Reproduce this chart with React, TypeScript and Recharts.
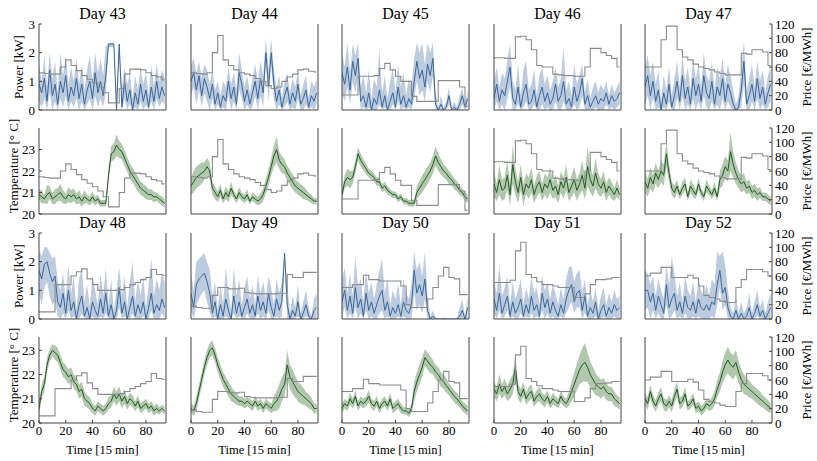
import React from "react";
import { ComposedChart, Area, Line, XAxis, YAxis } from "recharts";

const FONT = '"Liberation Serif", "DejaVu Serif", serif';

const timeTicks = [0, 20, 40, 60, 80];
const powerTicks = [0, 1, 2, 3];
const tempTicks = [20, 21, 22, 23];
const priceTicks = [0, 20, 40, 60, 80, 100, 120];

// hourly prices [€/MWh]
const price43 = [52, 51, 50, 50, 60, 70, 62, 55, 48, 43, 38, 32, 24, 10, 10, 30, 50, 57, 57, 56, 52, 48, 46, 42];
const price44 = [52, 51, 50, 52, 80, 104, 70, 62, 56, 52, 50, 48, 44, 40, 34, 30, 32, 40, 46, 50, 56, 57, 54, 53];
const price45 = [21, 21, 21, 47, 47, 47, 48, 58, 65, 56, 47, 40, 40, 19, 12, 12, 12, 12, 41, 41, 41, 41, 32, 5];
const price46 = [73, 73, 72, 72, 102, 103, 98, 84, 62, 60, 60, 50, 49, 48, 48, 47, 47, 60, 86, 86, 80, 76, 72, 60];
const price47 = [60, 60, 60, 98, 117, 117, 84, 74, 70, 64, 60, 58, 56, 53, 51, 49, 49, 49, 79, 78, 84, 84, 81, 62];
const price48 = [10, 10, 10, 48, 48, 48, 60, 66, 70, 56, 48, 40, 40, 40, 40, 41, 44, 48, 51, 55, 58, 69, 62, 61];
const price49 = [18, 16, 15, 15, 33, 44, 44, 42, 42, 43, 37, 36, 35, 35, 35, 35, 36, 36, 62, 58, 58, 65, 65, 65];
const price50 = [44, 44, 48, 48, 61, 55, 55, 53, 53, 53, 53, 46, 20, 16, 16, 16, 28, 44, 60, 72, 58, 56, 34, 34];
const price51 = [51, 51, 51, 54, 95, 107, 62, 58, 52, 48, 48, 46, 44, 44, 44, 30, 30, 35, 48, 55, 55, 56, 58, 58];
const price52 = [60, 64, 64, 72, 72, 58, 58, 58, 61, 57, 46, 33, 30, 28, 25, 23, 23, 44, 55, 69, 69, 69, 66, 60];

// power [kW], every 30 min: mean, upper and lower band
const p43Mean = [0.9, 0.6, 1.1, 0.3, 1.4, 0.5, 0.9, 0.2, 1.0, 0.6, 1.2, 0.3, 0.8, 0.5, 1.1, 0.4, 0.9, 0.2, 0.7, 1.0, 0.4, 1.3, 0.6, 1.0, 0.5, 1.2, 2.3, 2.3, 2.3, 0.0, 2.3, 0.1, 1.0, 0.3, 0.7, 0.0, 0.6, 0.2, 0.9, 0.3, 0.7, 0.1, 0.8, 0.3, 1.0, 0.4, 0.8, 0.5];
const p43Hi = [1.6, 1.0, 1.9, 0.8, 2.0, 1.1, 1.7, 0.6, 2.0, 1.2, 1.9, 0.9, 1.5, 1.0, 1.8, 0.9, 1.6, 0.7, 1.4, 1.9, 1.0, 2.0, 1.3, 1.8, 1.2, 2.2, 2.35, 2.35, 2.35, 0.6, 2.35, 0.8, 1.5, 0.9, 1.3, 0.4, 1.2, 0.7, 1.5, 0.9, 1.3, 0.5, 1.6, 0.8, 1.6, 1.0, 1.4, 1.1];
const p43Lo = [0.3, 0.1, 0.4, 0, 0.6, 0, 0.3, 0, 0.4, 0.1, 0.5, 0, 0.3, 0.1, 0.4, 0, 0.3, 0, 0.2, 0.4, 0, 0.5, 0.1, 0.4, 0.1, 0.6, 2.2, 2.2, 2.2, 0, 2.0, 0, 0.4, 0, 0.2, 0, 0.1, 0, 0.3, 0, 0.2, 0, 0.3, 0, 0.4, 0.1, 0.3, 0.2];

const p44Mean = [1.0, 1.3, 0.7, 1.2, 0.5, 1.1, 0.8, 0.4, 0.9, 0.2, 0.6, 0.1, 0.5, 0.3, 1.0, 0.4, 0.8, 0.2, 1.3, 0.9, 0.3, 0.7, 0.2, 0.6, 1.0, 0.4, 1.1, 0.6, 2.0, 0.8, 2.0, 0.9, 0.3, 0.7, 0.1, 0.5, 0.8, 0.2, 0.6, 0.3, 0.9, 0.2, 0.4, 0.7, 0.1, 0.5, 0.3, 0.6];
const p44Hi = [1.6, 1.8, 1.3, 1.7, 1.1, 1.6, 1.4, 0.9, 1.4, 0.7, 1.0, 0.5, 1.0, 0.8, 1.5, 0.9, 1.3, 0.7, 2.0, 1.4, 0.8, 1.2, 0.6, 1.1, 1.6, 1.0, 1.7, 1.2, 2.5, 1.4, 2.5, 1.4, 0.8, 1.2, 0.4, 1.0, 1.3, 0.6, 1.1, 0.8, 1.4, 0.5, 0.9, 1.2, 0.4, 1.0, 0.8, 1.1];
const p44Lo = [0.5, 0.8, 0.2, 0.7, 0.1, 0.6, 0.3, 0, 0.4, 0, 0.2, 0, 0.1, 0, 0.5, 0, 0.3, 0, 0.7, 0.4, 0, 0.2, 0, 0.1, 0.5, 0, 0.5, 0.1, 1.6, 0.3, 1.6, 0.4, 0, 0.2, 0, 0.1, 0.3, 0, 0.1, 0, 0.4, 0, 0, 0.2, 0, 0.1, 0, 0.2];

const p45Mean = [1.3, 0.9, 1.5, 0.7, 1.7, 1.2, 1.8, 0.3, 0.5, 0.1, 0.6, 0.0, 0.4, 0.2, 0.7, 0.1, 0.5, 0.0, 0.3, 0.6, 0.1, 0.8, 0.2, 0.5, 0.1, 0.4, 0.2, 1.0, 1.7, 1.1, 1.4, 0.8, 1.6, 1.2, 1.8, 0.2, 0.0, 0.2, 0.0, 0.1, 0.5, 0.0, 0.1, 0.0, 0.2, 0.5, 0.1, 0.4];
const p45Hi = [2.0, 1.5, 2.35, 1.3, 2.3, 1.9, 2.35, 0.8, 1.2, 0.6, 1.4, 0.4, 1.1, 0.8, 2.1, 0.6, 1.2, 0.4, 1.0, 1.5, 0.6, 1.6, 0.8, 1.3, 0.5, 1.1, 0.8, 1.8, 2.35, 2.0, 2.35, 1.6, 2.35, 2.0, 2.35, 0.6, 0.1, 0.5, 0.1, 0.3, 0.8, 0.1, 0.3, 0.1, 0.5, 0.8, 0.2, 0.7];
const p45Lo = [0.6, 0.3, 0.8, 0.2, 1.0, 0.6, 1.2, 0, 0.1, 0, 0.1, 0, 0, 0, 0.2, 0, 0.1, 0, 0, 0.2, 0, 0.3, 0, 0.1, 0, 0.1, 0, 0.4, 1.0, 0.5, 0.7, 0.3, 1.0, 0.6, 1.2, 0, 0, 0, 0, 0, 0.2, 0, 0, 0, 0, 0.2, 0, 0.1];

const p46Mean = [0.4, 0.9, 0.3, 0.7, 0.5, 1.0, 1.5, 0.4, 0.2, 0.8, 0.1, 0.6, 0.9, 0.2, 0.3, 0.7, 0.1, 0.5, 0.8, 0.3, 0.6, 0.2, 0.4, 0.9, 0.3, 0.5, 1.0, 0.2, 0.4, 0.1, 0.8, 0.3, 0.6, 1.1, 0.2, 0.5, 0.1, 0.3, 0.5, 0.2, 0.4, 0.3, 0.6, 0.2, 0.5, 0.3, 0.4, 0.6];
const p46Hi = [1.0, 1.5, 0.8, 1.3, 1.1, 1.7, 2.3, 1.0, 0.7, 1.6, 0.5, 1.4, 1.7, 0.7, 0.9, 1.4, 0.5, 1.2, 1.5, 0.9, 1.2, 0.7, 1.0, 1.5, 0.8, 1.1, 2.2, 0.7, 1.0, 0.5, 1.6, 0.9, 1.2, 1.6, 0.6, 1.1, 0.4, 0.8, 1.0, 0.6, 0.9, 0.7, 1.0, 0.5, 0.9, 0.6, 0.8, 1.0];
const p46Lo = [0, 0.3, 0, 0.2, 0, 0.4, 0.8, 0, 0, 0.2, 0, 0.1, 0.3, 0, 0, 0.2, 0, 0, 0.2, 0, 0.1, 0, 0, 0.3, 0, 0, 0.3, 0, 0, 0, 0.2, 0, 0.1, 0.5, 0, 0, 0, 0, 0.1, 0, 0, 0, 0.2, 0, 0.1, 0, 0.1, 0.2];

const p47Mean = [0.8, 1.2, 0.5, 1.0, 0.3, 0.7, 0.0, 0.6, 0.2, 0.9, 0.1, 0.5, 1.0, 0.3, 1.2, 0.4, 0.8, 0.2, 1.1, 0.5, 0.9, 0.3, 1.2, 0.6, 0.4, 1.0, 0.2, 0.8, 0.5, 1.1, 0.3, 0.9, 0.6, 0.2, 0.0, 0.1, 0.7, 1.7, 0.2, 0.5, 0.9, 0.3, 1.1, 0.4, 0.8, 0.2, 0.6, 0.9];
const p47Hi = [1.5, 1.9, 1.2, 1.7, 0.9, 1.4, 0.3, 1.2, 0.7, 1.5, 0.5, 1.1, 1.7, 0.8, 1.9, 1.0, 1.5, 0.7, 1.8, 1.1, 1.6, 0.8, 2.0, 1.2, 1.0, 1.7, 0.7, 1.5, 1.1, 1.8, 0.9, 1.6, 1.2, 0.7, 0.2, 0.5, 1.4, 2.4, 0.7, 1.1, 1.6, 0.8, 1.7, 1.0, 1.4, 0.6, 1.2, 1.5];
const p47Lo = [0.2, 0.5, 0, 0.4, 0, 0.1, 0, 0.1, 0, 0.3, 0, 0, 0.4, 0, 0.5, 0, 0.2, 0, 0.4, 0, 0.3, 0, 0.5, 0.1, 0, 0.3, 0, 0.2, 0, 0.4, 0, 0.3, 0.1, 0, 0, 0, 0.1, 0.9, 0, 0, 0.3, 0, 0.4, 0, 0.2, 0, 0.1, 0.3];

const p48Mean = [1.7, 1.4, 1.9, 2.0, 1.6, 1.3, 1.5, 0.6, 0.4, 0.9, 0.2, 1.0, 0.3, 0.6, 0.0, 0.5, 0.8, 0.1, 0.4, 0.0, 0.6, 0.3, 0.1, 0.7, 0.2, 0.9, 0.1, 0.5, 0.0, 0.3, 1.1, 0.2, 0.6, 0.0, 0.4, 0.8, 0.1, 0.5, 0.2, 0.6, 0.0, 0.4, 0.9, 0.2, 0.5, 0.3, 0.7, 0.4];
const p48Hi = [2.4, 2.2, 2.5, 2.5, 2.3, 2.1, 2.2, 1.3, 1.0, 1.6, 0.7, 1.9, 0.9, 1.5, 0.3, 1.4, 1.8, 0.6, 1.2, 0.4, 1.5, 1.0, 0.5, 1.6, 0.8, 1.8, 0.5, 1.4, 0.3, 1.0, 1.8, 0.8, 1.5, 0.4, 1.3, 2.0, 0.6, 1.4, 0.8, 1.5, 0.4, 1.2, 2.1, 0.8, 1.4, 1.0, 1.6, 1.3];
const p48Lo = [0.9, 0.5, 1.1, 1.3, 0.8, 0.5, 0.6, 0.1, 0, 0.2, 0, 0.3, 0, 0.1, 0, 0, 0.2, 0, 0, 0, 0.1, 0, 0, 0.1, 0, 0.2, 0, 0, 0, 0, 0.4, 0, 0.1, 0, 0, 0.2, 0, 0, 0, 0.1, 0, 0, 0.3, 0, 0, 0, 0.2, 0];

const p49Mean = [0.9, 0.4, 1.2, 1.4, 1.5, 1.6, 1.3, 0.9, 0.2, 0.6, 0.0, 0.5, 0.1, 0.7, 0.3, 0.0, 0.8, 0.2, 0.6, 0.1, 0.4, 0.7, 0.2, 0.5, 0.1, 0.8, 0.3, 0.6, 0.2, 0.9, 0.4, 0.1, 0.7, 0.3, 0.6, 2.3, 0.5, 0.0, 0.3, 0.1, 0.6, 0.0, 0.2, 0.5, 0.1, 0.0, 0.3, 0.4];
const p49Hi = [1.6, 1.0, 2.0, 2.1, 2.2, 2.3, 2.0, 1.7, 0.8, 1.3, 0.3, 1.2, 0.5, 1.8, 1.0, 0.3, 1.8, 0.8, 1.4, 0.5, 1.1, 1.5, 0.7, 1.2, 0.5, 1.5, 0.9, 1.3, 0.7, 1.5, 1.1, 0.5, 1.4, 0.9, 1.3, 2.35, 1.2, 0.2, 0.8, 0.4, 1.2, 0.2, 0.6, 1.0, 0.4, 0.1, 0.7, 0.9];
const p49Lo = [0.3, 0, 0.5, 0.7, 0.9, 1.0, 0.6, 0.2, 0, 0.1, 0, 0, 0, 0.1, 0, 0, 0.2, 0, 0.1, 0, 0, 0.2, 0, 0, 0, 0.2, 0, 0.1, 0, 0.3, 0, 0, 0.1, 0, 0.1, 2.1, 0, 0, 0, 0, 0.1, 0, 0, 0.1, 0, 0, 0, 0];

const p50Mean = [0.6, 1.0, 0.3, 0.8, 0.2, 1.1, 0.4, 0.7, 0.1, 0.9, 0.3, 0.6, 0.2, 0.5, 0.8, 1.0, 0.3, 0.6, 0.1, 0.4, 0.2, 0.5, 0.1, 0.6, 0.3, 0.2, 0.5, 1.7, 0.9, 1.2, 0.8, 1.4, 0.3, 0.0, 0.1, 0.0, 0.0, 0.0, 0.0, 0.0, 0.0, 0.0, 0.0, 0.0, 0.1, 0.3, 0.0, 0.4];
const p50Hi = [1.4, 1.8, 0.9, 1.6, 0.8, 2.2, 1.1, 1.4, 0.6, 1.7, 0.9, 1.3, 0.7, 1.2, 1.7, 2.1, 0.9, 1.4, 0.5, 1.0, 0.7, 1.2, 0.5, 1.4, 0.9, 0.7, 1.2, 2.35, 1.7, 2.0, 1.5, 2.35, 0.8, 0.1, 0.3, 0.05, 0, 0, 0.05, 0, 0, 0, 0, 0.05, 0.4, 0.7, 0.1, 0.8];
const p50Lo = [0.1, 0.4, 0, 0.2, 0, 0.4, 0, 0.2, 0, 0.3, 0, 0.1, 0, 0, 0.2, 0.3, 0, 0.1, 0, 0, 0, 0.1, 0, 0.1, 0, 0, 0, 0.9, 0.3, 0.5, 0.2, 0.7, 0, 0, 0, 0, 0, 0, 0, 0, 0, 0, 0, 0, 0, 0, 0, 0];

const p51Mean = [0.7, 0.3, 0.9, 0.2, 0.5, 0.8, 0.1, 0.6, 0.2, 0.4, 0.7, 0.1, 0.5, 0.2, 0.8, 0.3, 0.5, 0.1, 0.9, 0.4, 0.7, 0.2, 0.6, 0.3, 0.1, 0.5, 0.2, 0.7, 1.0, 1.2, 0.6, 0.9, 1.0, 0.3, 0.8, 0.1, 0.4, 0.2, 0.6, 0.0, 0.3, 0.5, 0.1, 0.4, 0.2, 0.5, 0.3, 0.4];
const p51Hi = [1.3, 0.9, 1.9, 0.8, 1.1, 1.5, 0.5, 1.3, 0.7, 1.0, 1.4, 0.5, 1.1, 0.7, 1.5, 0.9, 1.1, 0.5, 1.5, 1.0, 1.3, 0.7, 1.2, 0.9, 0.5, 1.1, 0.7, 1.4, 1.8, 1.85, 1.3, 1.6, 1.7, 0.9, 1.4, 0.5, 1.0, 0.6, 1.1, 0.3, 0.8, 1.1, 0.5, 0.9, 0.6, 1.0, 0.7, 0.8];
const p51Lo = [0.2, 0, 0.3, 0, 0.1, 0.3, 0, 0.1, 0, 0, 0.2, 0, 0.1, 0, 0.2, 0, 0.1, 0, 0.3, 0, 0.2, 0, 0.1, 0, 0, 0.1, 0, 0.2, 0.4, 0.6, 0.2, 0.4, 0.4, 0, 0.2, 0, 0, 0, 0.1, 0, 0, 0.1, 0, 0, 0, 0.1, 0, 0];

const p52Mean = [1.0, 1.0, 0.6, 0.9, 0.3, 0.8, 0.5, 0.2, 1.2, 0.4, 0.7, 0.9, 0.3, 0.6, 0.2, 0.8, 0.4, 0.3, 0.6, 0.2, 0.7, 0.4, 0.3, 0.5, 0.3, 0.6, 0.5, 1.2, 1.7, 0.9, 1.1, 0.4, 0.1, 0.0, 0.3, 0.0, 0.2, 0.0, 0.1, 0.4, 0.0, 0.2, 0.5, 0.1, 0.3, 0.0, 0.2, 0.4];
const p52Hi = [1.7, 1.6, 1.2, 1.5, 0.8, 1.4, 1.0, 0.7, 1.9, 1.2, 2.2, 1.6, 0.8, 1.3, 0.6, 1.5, 1.0, 0.8, 1.3, 0.6, 1.4, 1.0, 0.8, 1.2, 0.8, 1.4, 1.2, 2.35, 2.2, 2.35, 1.9, 1.0, 0.4, 0.2, 0.8, 0.2, 0.6, 0.2, 0.4, 0.9, 0.2, 0.6, 1.0, 0.4, 0.7, 0.2, 0.6, 0.9];
const p52Lo = [0.3, 0.4, 0, 0.3, 0, 0.2, 0, 0, 0.5, 0, 0.1, 0.3, 0, 0.1, 0, 0.2, 0, 0, 0.1, 0, 0.1, 0, 0, 0, 0, 0.1, 0, 0.5, 1.1, 0.3, 0.5, 0, 0, 0, 0, 0, 0, 0, 0, 0, 0, 0, 0.1, 0, 0, 0, 0, 0];

// temperature [°C], every 30 min: mean and half-width of the band
const t43Mean = [20.9, 20.8, 20.7, 20.9, 21.0, 20.7, 20.8, 20.9, 21.0, 20.8, 20.7, 20.9, 20.8, 20.9, 20.7, 20.8, 20.6, 20.8, 20.7, 20.6, 20.8, 20.6, 20.7, 20.5, 20.5, 20.5, 21.8, 22.8, 22.9, 23.2, 23.0, 22.9, 22.6, 22.3, 22.0, 21.8, 21.6, 21.4, 21.2, 21.1, 21.0, 20.9, 20.9, 20.8, 20.8, 20.7, 20.6, 20.5];
const t43Spread = [0.25, 0.3, 0.2, 0.45, 0.3, 0.25, 0.35, 0.3, 0.4, 0.3, 0.25, 0.35, 0.3, 0.3, 0.25, 0.3, 0.25, 0.3, 0.2, 0.2, 0.25, 0.2, 0.2, 0.15, 0.15, 0.15, 0.3, 0.35, 0.4, 0.5, 0.4, 0.35, 0.35, 0.35, 0.35, 0.35, 0.35, 0.35, 0.3, 0.3, 0.3, 0.25, 0.25, 0.25, 0.2, 0.2, 0.2, 0.2];

const t44Mean = [21.3, 21.5, 21.7, 21.8, 21.9, 22.0, 22.2, 22.0, 21.2, 21.0, 20.8, 21.1, 20.7, 21.0, 20.8, 21.2, 20.9, 20.7, 21.0, 20.8, 20.7, 20.9, 20.6, 20.8, 20.7, 20.6, 20.7, 20.9, 21.3, 21.7, 22.2, 22.7, 23.0, 22.5, 22.3, 22.2, 21.9, 21.7, 21.5, 21.3, 21.2, 21.1, 21.0, 20.9, 20.8, 20.7, 20.6, 20.6];
const t44Spread = [0.4, 0.5, 0.5, 0.5, 0.5, 0.4, 0.4, 0.4, 0.3, 0.3, 0.25, 0.3, 0.2, 0.3, 0.25, 0.3, 0.2, 0.2, 0.25, 0.2, 0.2, 0.25, 0.15, 0.2, 0.2, 0.2, 0.25, 0.3, 0.35, 0.4, 0.4, 0.5, 0.6, 0.4, 0.4, 0.35, 0.35, 0.35, 0.35, 0.3, 0.3, 0.3, 0.3, 0.25, 0.2, 0.2, 0.15, 0.15];

const t45Mean = [20.9, 21.5, 21.7, 21.6, 21.7, 22.2, 22.8, 22.5, 22.3, 22.1, 21.9, 21.8, 21.7, 21.5, 21.5, 21.2, 21.3, 21.1, 21.0, 20.9, 20.9, 20.7, 20.8, 20.6, 20.6, 20.5, 20.5, 20.5, 21.0, 21.2, 21.4, 21.6, 21.8, 22.0, 22.3, 22.7, 22.4, 22.2, 22.0, 21.9, 21.7, 21.6, 21.4, 21.3, 21.1, 21.0, 20.8, 20.7];
const t45Spread = [0.2, 0.3, 0.4, 0.4, 0.3, 0.3, 0.3, 0.3, 0.25, 0.25, 0.2, 0.2, 0.2, 0.2, 0.2, 0.2, 0.2, 0.2, 0.15, 0.15, 0.15, 0.15, 0.15, 0.15, 0.15, 0.15, 0.15, 0.15, 0.3, 0.35, 0.4, 0.4, 0.4, 0.4, 0.4, 0.45, 0.4, 0.35, 0.3, 0.3, 0.3, 0.25, 0.25, 0.25, 0.2, 0.2, 0.2, 0.2];

const t46Mean = [21.4, 21.0, 21.6, 21.1, 21.2, 21.8, 20.9, 22.3, 21.5, 21.0, 21.7, 20.9, 21.4, 21.2, 21.6, 20.9, 21.3, 21.5, 21.0, 21.4, 21.2, 21.6, 21.1, 21.3, 20.9, 21.5, 21.2, 21.7, 21.0, 21.3, 21.6, 21.1, 21.4, 21.8, 21.2, 22.2, 21.6, 21.3, 21.9, 21.4, 21.2, 21.5, 21.0, 21.3, 21.1, 20.9, 21.2, 20.9];
const t46Spread = [0.6, 0.4, 0.7, 0.5, 0.5, 0.7, 0.5, 0.9, 0.6, 0.5, 0.6, 0.5, 0.5, 0.5, 0.6, 0.4, 0.5, 0.5, 0.4, 0.5, 0.5, 0.6, 0.4, 0.5, 0.4, 0.5, 0.5, 0.6, 0.4, 0.5, 0.6, 0.5, 0.5, 0.7, 0.5, 0.9, 0.6, 0.5, 0.7, 0.5, 0.4, 0.5, 0.4, 0.4, 0.4, 0.3, 0.4, 0.3];

const t47Mean = [21.5, 21.2, 21.7, 21.4, 21.9, 21.6, 22.0, 21.8, 22.8, 21.9, 21.2, 21.0, 21.3, 20.9, 21.2, 21.4, 20.8, 21.3, 21.1, 20.9, 21.4, 21.0, 20.8, 21.3, 21.1, 20.9, 21.2, 20.8, 21.6, 21.8, 22.2, 22.0, 22.9, 22.3, 21.9, 21.6, 21.4, 21.5, 21.2, 21.3, 21.0, 21.1, 20.9, 21.0, 20.8, 20.8, 20.7, 20.6];
const t47Spread = [0.5, 0.4, 0.5, 0.4, 0.5, 0.4, 0.5, 0.5, 0.6, 0.4, 0.3, 0.3, 0.3, 0.2, 0.3, 0.3, 0.2, 0.3, 0.3, 0.2, 0.3, 0.2, 0.2, 0.3, 0.2, 0.2, 0.3, 0.2, 0.4, 0.5, 0.5, 0.5, 0.9, 0.6, 0.5, 0.4, 0.4, 0.4, 0.3, 0.3, 0.3, 0.3, 0.3, 0.25, 0.2, 0.2, 0.2, 0.2];

const t48Mean = [20.6, 21.3, 21.6, 22.4, 22.8, 23.0, 22.9, 22.8, 22.5, 22.2, 22.1, 21.9, 22.0, 21.7, 21.6, 21.3, 21.4, 21.0, 20.9, 20.8, 20.6, 20.5, 20.7, 20.6, 20.5, 20.6, 20.8, 20.9, 21.2, 21.0, 21.2, 20.9, 21.1, 20.8, 21.0, 20.9, 20.7, 20.9, 20.6, 20.7, 20.8, 20.6, 20.7, 20.5, 20.6, 20.5, 20.6, 20.5];
const t48Spread = [0.3, 0.3, 0.3, 0.3, 0.25, 0.25, 0.3, 0.3, 0.3, 0.3, 0.3, 0.3, 0.3, 0.3, 0.3, 0.3, 0.3, 0.3, 0.25, 0.25, 0.2, 0.2, 0.2, 0.2, 0.2, 0.2, 0.25, 0.25, 0.3, 0.3, 0.3, 0.3, 0.3, 0.25, 0.25, 0.25, 0.2, 0.25, 0.2, 0.2, 0.2, 0.2, 0.2, 0.2, 0.2, 0.15, 0.15, 0.15];

const t49Mean = [20.6, 20.5, 20.8, 21.3, 21.8, 22.3, 22.7, 23.0, 23.1, 22.8, 22.4, 22.1, 21.8, 21.6, 21.4, 21.2, 21.1, 21.0, 20.9, 20.9, 20.8, 20.9, 20.8, 20.7, 20.9, 20.7, 20.8, 20.6, 20.8, 20.7, 20.6, 20.8, 20.9, 21.1, 21.4, 21.6, 22.4, 21.9, 21.7, 21.5, 21.3, 21.2, 21.1, 21.0, 20.9, 20.8, 20.6, 20.6];
const t49Spread = [0.2, 0.2, 0.3, 0.3, 0.3, 0.3, 0.3, 0.3, 0.3, 0.3, 0.3, 0.3, 0.3, 0.3, 0.3, 0.3, 0.25, 0.25, 0.2, 0.2, 0.2, 0.2, 0.2, 0.2, 0.2, 0.2, 0.2, 0.2, 0.2, 0.2, 0.2, 0.3, 0.4, 0.5, 0.5, 0.5, 0.6, 0.5, 0.5, 0.45, 0.4, 0.4, 0.35, 0.3, 0.3, 0.25, 0.2, 0.2];

const t50Mean = [20.6, 20.8, 20.7, 21.0, 20.8, 21.1, 20.7, 20.9, 20.8, 20.9, 21.1, 20.8, 20.7, 20.9, 20.6, 20.8, 20.9, 20.7, 21.0, 20.6, 20.7, 20.8, 20.6, 20.5, 20.5, 20.4, 20.6, 21.3, 21.7, 22.0, 22.3, 22.7, 22.55, 22.4, 22.3, 22.1, 22.0, 21.8, 21.7, 21.55, 21.4, 21.25, 21.1, 21.0, 20.85, 20.7, 20.6, 20.5];
const t50Spread = [0.2, 0.2, 0.2, 0.25, 0.2, 0.25, 0.2, 0.2, 0.2, 0.2, 0.25, 0.2, 0.2, 0.2, 0.2, 0.2, 0.2, 0.2, 0.25, 0.2, 0.2, 0.2, 0.2, 0.15, 0.15, 0.15, 0.2, 0.4, 0.4, 0.4, 0.4, 0.35, 0.35, 0.35, 0.3, 0.3, 0.3, 0.3, 0.3, 0.3, 0.25, 0.25, 0.25, 0.25, 0.2, 0.2, 0.2, 0.2];

const t51Mean = [21.4, 21.2, 21.6, 21.3, 21.5, 21.2, 21.4, 21.6, 22.3, 21.3, 21.1, 21.4, 21.0, 21.2, 21.3, 20.9, 21.1, 21.2, 21.0, 20.9, 21.1, 20.8, 21.0, 20.9, 20.8, 21.1, 20.9, 20.8, 21.0, 21.3, 21.6, 21.9, 22.2, 22.4, 22.5, 22.3, 22.0, 21.8, 21.6, 21.5, 21.4, 21.5, 21.3, 21.2, 21.2, 21.0, 20.9, 20.8];
const t51Spread = [0.3, 0.3, 0.4, 0.3, 0.35, 0.3, 0.4, 0.4, 0.5, 0.3, 0.3, 0.3, 0.25, 0.3, 0.3, 0.25, 0.25, 0.3, 0.25, 0.25, 0.25, 0.2, 0.25, 0.2, 0.2, 0.25, 0.2, 0.2, 0.3, 0.4, 0.5, 0.55, 0.6, 0.7, 0.8, 0.6, 0.55, 0.5, 0.45, 0.4, 0.4, 0.35, 0.35, 0.3, 0.3, 0.3, 0.25, 0.25];

const t52Mean = [21.0, 20.8, 21.3, 20.9, 20.7, 21.0, 21.2, 20.8, 20.7, 20.9, 20.7, 21.1, 21.4, 20.8, 20.9, 21.2, 20.7, 20.8, 21.0, 20.6, 20.7, 20.5, 20.6, 20.8, 20.7, 20.8, 21.0, 21.4, 21.7, 22.1, 22.4, 22.6, 22.4, 22.3, 22.5, 22.1, 21.8, 21.6, 21.5, 21.4, 21.3, 21.2, 21.1, 21.0, 20.9, 20.8, 20.7, 20.6];
const t52Spread = [0.25, 0.25, 0.3, 0.25, 0.25, 0.25, 0.3, 0.25, 0.25, 0.25, 0.25, 0.3, 0.3, 0.25, 0.25, 0.3, 0.2, 0.2, 0.25, 0.2, 0.2, 0.2, 0.2, 0.2, 0.2, 0.25, 0.3, 0.35, 0.4, 0.45, 0.5, 0.55, 0.5, 0.5, 0.5, 0.45, 0.4, 0.4, 0.35, 0.35, 0.3, 0.3, 0.3, 0.3, 0.25, 0.25, 0.25, 0.2];

const days = [
  { day: 43, pMean: p43Mean, pHi: p43Hi, pLo: p43Lo, tMean: t43Mean, tSpread: t43Spread, price: price43 },
  { day: 44, pMean: p44Mean, pHi: p44Hi, pLo: p44Lo, tMean: t44Mean, tSpread: t44Spread, price: price44 },
  { day: 45, pMean: p45Mean, pHi: p45Hi, pLo: p45Lo, tMean: t45Mean, tSpread: t45Spread, price: price45 },
  { day: 46, pMean: p46Mean, pHi: p46Hi, pLo: p46Lo, tMean: t46Mean, tSpread: t46Spread, price: price46 },
  { day: 47, pMean: p47Mean, pHi: p47Hi, pLo: p47Lo, tMean: t47Mean, tSpread: t47Spread, price: price47 },
  { day: 48, pMean: p48Mean, pHi: p48Hi, pLo: p48Lo, tMean: t48Mean, tSpread: t48Spread, price: price48 },
  { day: 49, pMean: p49Mean, pHi: p49Hi, pLo: p49Lo, tMean: t49Mean, tSpread: t49Spread, price: price49 },
  { day: 50, pMean: p50Mean, pHi: p50Hi, pLo: p50Lo, tMean: t50Mean, tSpread: t50Spread, price: price50 },
  { day: 51, pMean: p51Mean, pHi: p51Hi, pLo: p51Lo, tMean: t51Mean, tSpread: t51Spread, price: price51 },
  { day: 52, pMean: p52Mean, pHi: p52Hi, pLo: p52Lo, tMean: t52Mean, tSpread: t52Spread, price: price52 },
];

// layout (px)
const colLeft = [39, 191, 342, 494, 645];
const rowTop = [24, 128, 233, 337];
const PW = 127;
const PH = 86;
const AX = 32;
const TOP = 9;
const XH = 24;

const FRAME = "#444";
const BLUE_LINE = "#3a679a";
const BLUE_BAND = "#bccbde";
const GREEN_LINE = "#245a24";
const GREEN_BAND = "#b2c8ae";
const PRICE = "#8c8c8c";

const tickFont = { fontFamily: FONT, fontSize: 13, fill: "#000" };

type Row = { t: number; mean: number; band: [number, number]; price: number };

interface PanelProps {
  row: number;
  col: number;
  data: Row[];
  yDomain: [number, number];
  yTicks: number[];
  lineColor: string;
  bandColor: string;
}

function Panel({ row, col, data, yDomain, yTicks, lineColor, bandColor }: PanelProps) {
  const showY = col === 0;
  const showP = col === 4;
  const showX = row === 3;
  return (
    <div style={{ position: "absolute", left: colLeft[col] - AX, top: rowTop[row] - TOP }}>
      <ComposedChart
        width={AX * 2 + PW}
        height={TOP + PH + XH}
        data={data}
        margin={{ top: TOP, right: 0, bottom: 0, left: 0 }}
      >
        <XAxis
          xAxisId="b"
          dataKey="t"
          type="number"
          domain={[0, 95]}
          ticks={timeTicks}
          interval={0}
          allowDataOverflow
          height={XH}
          stroke={FRAME}
          tickSize={-3}
          tickMargin={showX ? 6 : 0}
          tick={showX ? tickFont : false}
        />
        <XAxis
          xAxisId="top"
          orientation="top"
          dataKey="t"
          type="number"
          domain={[0, 95]}
          ticks={timeTicks}
          interval={0}
          allowDataOverflow
          height={0}
          stroke={FRAME}
          tickSize={-3}
          tick={false}
        />
        <YAxis
          yAxisId="v"
          type="number"
          domain={yDomain}
          ticks={yTicks}
          interval={0}
          allowDataOverflow
          width={AX}
          stroke={FRAME}
          tickSize={-3}
          tickMargin={7}
          tick={showY ? tickFont : false}
        />
        <YAxis
          yAxisId="p"
          orientation="right"
          type="number"
          domain={[0, 120]}
          ticks={priceTicks}
          interval={0}
          allowDataOverflow
          width={AX}
          stroke={FRAME}
          tickSize={-3}
          tickMargin={6}
          tick={showP ? tickFont : false}
        />
        <Area
          xAxisId="b"
          yAxisId="v"
          dataKey="band"
          type="linear"
          stroke="none"
          fill={bandColor}
          fillOpacity={1}
          isAnimationActive={false}
        />
        <Line
          xAxisId="b"
          yAxisId="v"
          dataKey="mean"
          type="linear"
          stroke={lineColor}
          strokeWidth={1}
          dot={false}
          isAnimationActive={false}
        />
        <Line
          xAxisId="b"
          yAxisId="p"
          dataKey="price"
          type="stepAfter"
          stroke={PRICE}
          strokeWidth={1.1}
          dot={false}
          isAnimationActive={false}
        />
      </ComposedChart>
    </div>
  );
}

function powerRows(d: (typeof days)[number]): Row[] {
  return d.pMean.map((m, i) => ({
    t: i * 2,
    mean: m,
    band: [d.pLo[i], d.pHi[i]],
    price: d.price[Math.floor(i / 2)],
  }));
}

function tempRows(d: (typeof days)[number]): Row[] {
  return d.tMean.map((m, i) => ({
    t: i * 2,
    mean: m,
    band: [m - d.tSpread[i], m + d.tSpread[i]],
    price: d.price[Math.floor(i / 2)],
  }));
}

const textBase: React.CSSProperties = {
  position: "absolute",
  fontFamily: FONT,
  color: "#000",
  whiteSpace: "nowrap",
  lineHeight: 1,
};

function VLabel({ x, y, text }: { x: number; y: number; text: string }) {
  return (
    <div style={{ ...textBase, left: x, top: y, fontSize: 13, transform: "translate(-50%, -50%) rotate(-90deg)" }}>
      {text}
    </div>
  );
}

export default function App() {
  return (
    <div style={{ position: "absolute", left: 0, top: 0, width: 817, height: 461, background: "#fff", overflow: "hidden" }}>
      {days.map((d, k) => {
        const col = k % 5;
        const block = Math.floor(k / 5);
        const pRow = block * 2;
        const tRow = block * 2 + 1;
        return (
          <React.Fragment key={d.day}>
            <div
              style={{ ...textBase, left: colLeft[col], width: PW, top: rowTop[pRow] - 18, fontSize: 16, textAlign: "center" }}
            >
              Day {d.day}
            </div>
            <Panel
              row={pRow}
              col={col}
              data={powerRows(d)}
              yDomain={[0, 3]}
              yTicks={powerTicks}
              lineColor={BLUE_LINE}
              bandColor={BLUE_BAND}
            />
            <Panel
              row={tRow}
              col={col}
              data={tempRows(d)}
              yDomain={tRow === 1 ? [20, 24] : [20, 23.55]}
              yTicks={tempTicks}
              lineColor={GREEN_LINE}
              bandColor={GREEN_BAND}
            />
          </React.Fragment>
        );
      })}
      <VLabel x={18} y={rowTop[0] + 43} text="Power [kW]" />
      <VLabel x={13} y={rowTop[1] + 38} text="Temperature [° C]" />
      <VLabel x={18} y={rowTop[2] + 43} text="Power [kW]" />
      <VLabel x={13} y={rowTop[3] + 38} text="Temperature [° C]" />
      {rowTop.map((top) => (
        <VLabel key={top} x={806} y={top + 43} text="Price [€/MWh]" />
      ))}
      {colLeft.map((left) => (
        <div key={left} style={{ ...textBase, left, width: PW, top: 444, fontSize: 12.5, textAlign: "center" }}>
          Time [15 min]
        </div>
      ))}
    </div>
  );
}
